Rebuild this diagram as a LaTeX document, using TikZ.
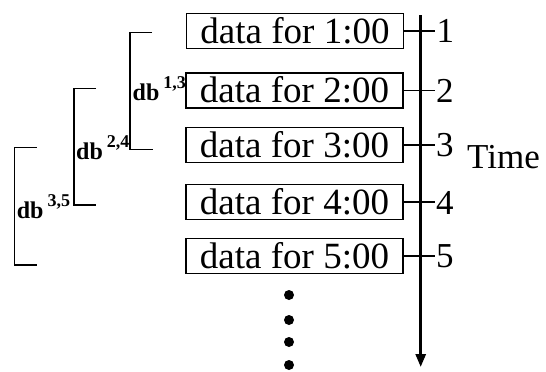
\documentclass[tikz,border=0pt]{standalone}
\usepackage{fontspec}
\setmainfont{Liberation Serif}
\usetikzlibrary{arrows.meta,calc}
\begin{document}
\begin{tikzpicture}[x=1pt,y=-1pt,
  databox/.style={draw,line width=1.6pt,minimum width=217pt,minimum height=35pt,inner sep=0pt,font=\fontsize{37pt}{39pt}\selectfont},
  ticklbl/.style={anchor=west,inner sep=0pt,font=\fontsize{35pt}{37pt}\selectfont},
  tickline/.style={line width=1.4pt},
  bracket/.style={line width=1.5pt},
  dblbl/.style={anchor=base west,inner sep=0pt,font=\fontsize{24pt}{26pt}\selectfont\bfseries},
  dotc/.style={circle,fill=black,inner sep=0pt,minimum size=10pt}]
\useasboundingbox (0,0) rectangle (546,372);
% boxes
\node[databox] (b1) at (295,30.8) {data for 1:00};
\node[databox] (b2) at (294.5,90.2) {data for 2:00};
\node[databox] (b3) at (294.5,144.8) {data for 3:00};
\node[databox] (b4) at (294.5,202) {data for 4:00};
\node[databox] (b5) at (294.5,255.8) {data for 5:00};
% axis
\coordinate (axtop) at (420.7,15);
\coordinate (axbot) at (420.7,367);
\draw[line width=2.8pt,-{Triangle[length=13pt,width=10pt]}] (axtop) -- (axbot);
% ticks and labels
\foreach \i in {1,...,5}{
  \coordinate (t\i) at ($(b\i.east)+(31,0)$);
  \draw[tickline] (b\i.east) -- (t\i);
  \node[ticklbl] (n\i) at ($(t\i)+(1,0.5)$) {\i};
}
\node[anchor=base west,inner sep=0pt,font=\fontsize{35pt}{37pt}\selectfont] (time) at (467,168) {Time};
% brackets
\coordinate (p1a) at (152,32.3); \coordinate (p1b) at (130,32.3);
\coordinate (p1c) at (130,149.3); \coordinate (p1d) at (152.5,149.3);
\draw[bracket] (p1a) -- (p1b) -- (p1c) -- (p1d);
\coordinate (p2a) at (96,88.3); \coordinate (p2b) at (74,88.3);
\coordinate (p2c) at (74,205); \coordinate (p2d) at (96,205);
\draw[bracket] (p2a) -- (p2b) -- (p2c) -- (p2d);
\coordinate (p3a) at (36.7,147.7); \coordinate (p3b) at (14.3,147.7);
\coordinate (p3c) at (14.3,265); \coordinate (p3d) at (36.7,265);
\draw[bracket] (p3a) -- (p3b) -- (p3c) -- (p3d);
% bracket labels
\node[dblbl] (l1) at (132.5,100.7) {db\hspace{4pt}\raisebox{12pt}{\fontsize{18pt}{18pt}\selectfont 1,3}};
\node[dblbl] (l2) at (76,159) {db\hspace{4pt}\raisebox{12pt}{\fontsize{18pt}{18pt}\selectfont 2,4}};
\node[dblbl] (l3) at (16.7,218) {db\hspace{4pt}\raisebox{12pt}{\fontsize{18pt}{18pt}\selectfont 3,5}};
% dots
\node[dotc] (d1) at (289,295) {};
\node[dotc] (d2) at (289,320) {};
\node[dotc] (d3) at (289,342) {};
\node[dotc] (d4) at (289,365) {};
\end{tikzpicture}
\end{document}
